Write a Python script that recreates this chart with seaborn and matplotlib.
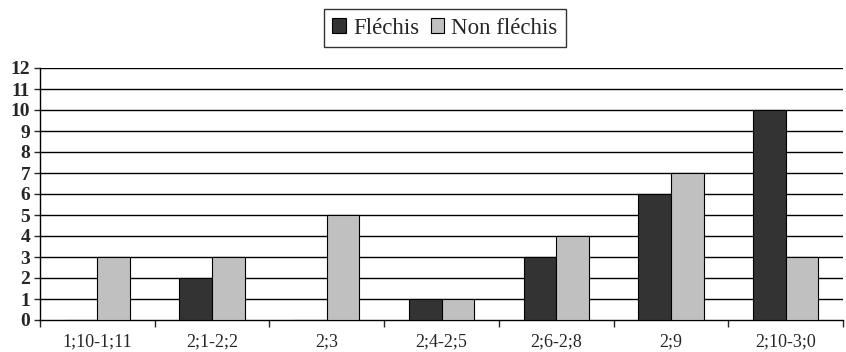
import pandas as pd
import seaborn as sns
import matplotlib.pyplot as plt
from matplotlib.ticker import FixedLocator

# data
periods = ['1;10-1;11', '2;1-2;2', '2;3', '2;4-2;5', '2;6-2;8', '2;9', '2;10-3;0']
flechis = [0, 2, 0, 1, 3, 6, 10]
non_flechis = [3, 3, 5, 1, 4, 7, 3]

df = pd.DataFrame({
    'period': periods * 2,
    'count': flechis + non_flechis,
    'type': ['Fléchis'] * len(periods) + ['Non fléchis'] * len(periods),
})

sns.set_style('white')
plt.rcParams['font.family'] = ['Liberation Serif', 'DejaVu Serif']

fig = plt.figure(figsize=(8.46, 3.52), dpi=100)
ax = fig.add_axes([40 / 846, 1 - 320 / 352, 803 / 846, 252 / 352])

sns.barplot(data=df, x='period', y='count', hue='type', order=periods,
            palette=['#333333', '#c0c0c0'], width=0.57,
            edgecolor='black', linewidth=0.8, ax=ax, zorder=3)

# gridlines at each integer
ax.set_ylim(0, 12)
ax.set_yticks(range(13))
for y in range(1, 13):
    ax.axhline(y, color='black', lw=1, zorder=1)
ax.set_xlim(-0.5, 6.5)

for s in ['top', 'right']:
    ax.spines[s].set_visible(False)
ax.spines['left'].set_color('black')
ax.spines['bottom'].set_color('black')
ax.spines['left'].set_linewidth(1)
ax.spines['bottom'].set_linewidth(1)

ax.tick_params(axis='y', length=4, width=1, direction='out', left=True, pad=3)
ax.tick_params(axis='x', which='major', length=0, pad=10, labelsize=13)
ax.xaxis.set_minor_locator(FixedLocator([i - 0.5 for i in range(8)]))
ax.tick_params(axis='x', which='minor', length=5, width=1, direction='out', bottom=True)
for lbl in ax.get_yticklabels():
    lbl.set_fontweight('bold')
    lbl.set_fontsize(14)
ax.set_xlabel('')
ax.set_ylabel('')

handles, labels = ax.get_legend_handles_labels()
ax.get_legend().remove()
leg = fig.legend(handles, labels, loc='center', bbox_to_anchor=(445 / 846, 1 - 28 / 352),
                 ncol=2, frameon=True, fancybox=False, fontsize=16.5,
                 handlelength=0.6, handleheight=0.6, handletextpad=0.3,
                 columnspacing=0.5, borderpad=0.35)
leg.get_frame().set_edgecolor('black')
leg.get_frame().set_linewidth(1)

fig.savefig('out.png', dpi=100)
